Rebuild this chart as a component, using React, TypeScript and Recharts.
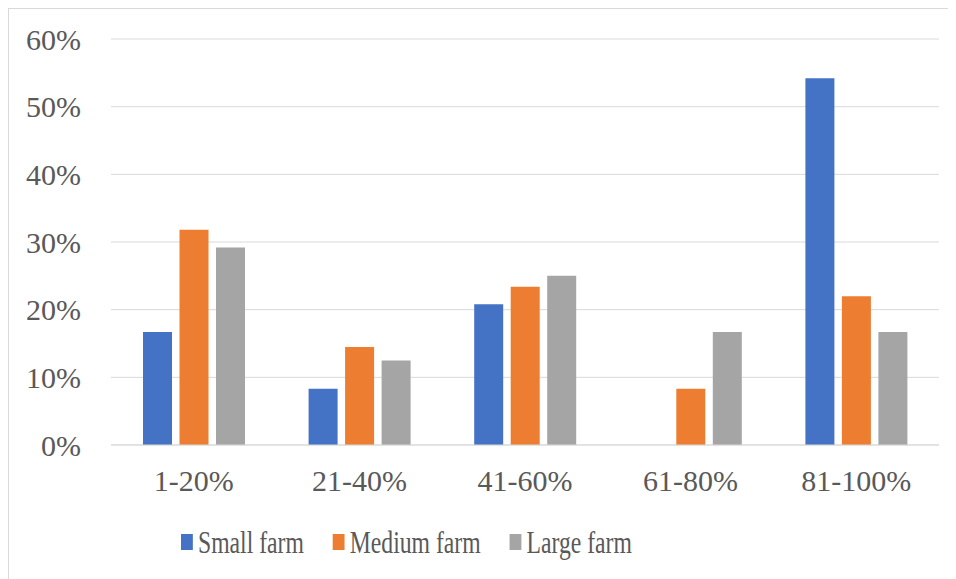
import React from "react";
import {
  Bar,
  BarChart,
  CartesianGrid,
  Legend,
  XAxis,
  YAxis,
} from "recharts";

const categories = ["1-20%", "21-40%", "41-60%", "61-80%", "81-100%"];
const smallFarm = [16.7, 8.3, 20.8, 0, 54.2];
const mediumFarm = [31.8, 14.5, 23.4, 8.3, 22.0];
const largeFarm = [29.2, 12.5, 25.0, 16.7, 16.7];
const yTicks = [0, 10, 20, 30, 40, 50, 60];

const series = [
  { key: "small", name: "Small farm", color: "#4472C4", values: smallFarm },
  { key: "medium", name: "Medium farm", color: "#ED7D31", values: mediumFarm },
  { key: "large", name: "Large farm", color: "#A5A5A5", values: largeFarm },
];

const data = categories.map((range, i) => {
  const row: Record<string, string | number> = { range };
  series.forEach((s) => {
    row[s.key] = s.values[i];
  });
  return row;
});

const FONT = '"Liberation Serif", "Times New Roman", serif';
const TEXT = "#595959";
const GRID = "#d9d9d9";

// keep legend in series order (recharts sorts by name otherwise)
const seriesIndex = (name: string) => series.findIndex((s) => s.name === name);

const LegendContent = (props: any) => {
  const payload = [...(props.payload || [])].sort(
    (a: any, b: any) => seriesIndex(a.value) - seriesIndex(b.value)
  );
  return (
    <div
      style={{
        display: "flex",
        alignItems: "center",
        transform: "scaleX(0.74)",
        transformOrigin: "left center",
        fontFamily: FONT,
        fontSize: 32,
        lineHeight: "36px",
        color: TEXT,
        whiteSpace: "nowrap",
      }}
    >
      {payload.map((entry: any) => (
        <span
          key={entry.value}
          style={{ display: "flex", alignItems: "center", marginRight: 39 }}
        >
          <span
            style={{
              width: 16,
              height: 16,
              background: entry.color,
              marginRight: 7,
              display: "inline-block",
            }}
          />
          {entry.value}
        </span>
      ))}
    </div>
  );
};

export default function App() {
  return (
    <div
      style={{
        width: 947,
        height: 570,
        borderTop: `1px solid ${GRID}`,
        borderLeft: `1px solid ${GRID}`,
        background: "#fff",
      }}
    >
      <BarChart
        width={947}
        height={570}
        data={data}
        margin={{ top: 30, right: 17, bottom: 0, left: 0 }}
        barSize={29}
        barGap={7.5}
      >
        <CartesianGrid vertical={false} stroke={GRID} />
        <XAxis
          dataKey="range"
          height={134}
          tickLine={false}
          tickSize={0}
          tickMargin={25}
          axisLine={{ stroke: GRID }}
          tick={{ fill: TEXT, fontFamily: FONT, fontSize: 30 }}
        />
        <YAxis
          width={102}
          domain={[0, 60]}
          ticks={yTicks}
          tickFormatter={(v: number) => `${v}%`}
          axisLine={false}
          tickLine={false}
          tickSize={0}
          tickMargin={30}
          tick={{ fill: TEXT, fontFamily: FONT, fontSize: 30 }}
        />
        <Legend
          layout="horizontal"
          verticalAlign="middle"
          align="center"
          content={<LegendContent />}
          wrapperStyle={{ top: 515, left: 172, width: 700 }}
        />
        {series.map((s) => (
          <Bar
            key={s.key}
            dataKey={s.key}
            name={s.name}
            fill={s.color}
            isAnimationActive={false}
          />
        ))}
      </BarChart>
    </div>
  );
}
